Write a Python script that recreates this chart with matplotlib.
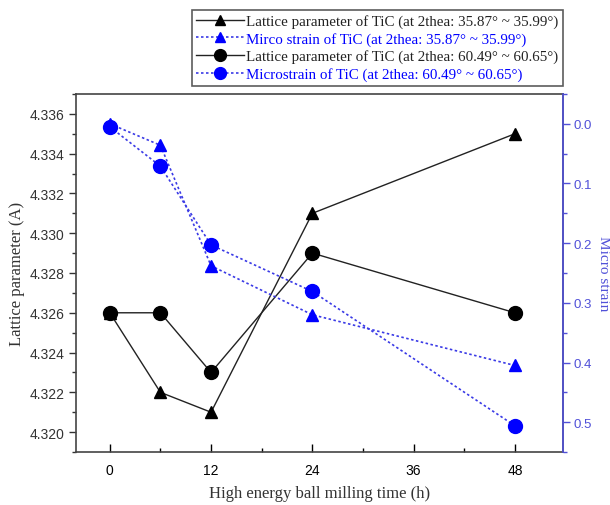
import matplotlib; matplotlib.use('Agg')
import matplotlib.pyplot as plt
from matplotlib.ticker import MultipleLocator

# --- data ---
time_h = [0, 6, 12, 24, 48]
lat_3587 = [4.326, 4.322, 4.321, 4.331, 4.335]
strain_3587 = [0.0, 0.036, 0.238, 0.320, 0.405]
lat_6049 = [4.326, 4.326, 4.323, 4.329, 4.326]
strain_6049 = [0.005, 0.071, 0.203, 0.281, 0.506]

labels = ['Lattice parameter of TiC (at 2thea: 35.87° ~ 35.99°)',
          'Mirco strain of TiC (at 2thea: 35.87° ~ 35.99°)',
          'Lattice parameter of TiC (at 2thea: 60.49° ~ 60.65°)',
          'Microstrain of TiC (at 2thea: 60.49° ~ 60.65°)']

serif = 'Liberation Serif'; sans = 'Liberation Sans'
axblue = '#5050d8'

fig = plt.figure(figsize=(6.10, 5.06), dpi=100)
ax = fig.add_axes([0.1246, 0.1047, 0.923 - 0.1246, 0.8123 - 0.1047])
ax2 = ax.twinx()

l1, = ax.plot(time_h, lat_3587, '-', color='#222222', lw=1.0, marker='^', ms=9,
              mfc='black', mec='black')
l3, = ax.plot(time_h, lat_6049, '-', color='#222222', lw=1.0, marker='o', ms=10,
              mfc='black', mec='black')
l2, = ax2.plot(time_h, strain_3587, color='#3a3ae6', lw=1.2, ls=(0, (1.5, 1.5)), marker='^', ms=9,
               mfc='blue', mec='blue')
l4, = ax2.plot(time_h, strain_6049, color='#3a3ae6', lw=1.2, ls=(0, (1.5, 1.5)), marker='o', ms=10,
               mfc='blue', mec='blue')

ax.set_xlim(-4, 53.7)
ax.set_ylim(4.319, 4.337)
ax2.set_ylim(0.55, -0.05)

ax.xaxis.set_major_locator(MultipleLocator(12)); ax.xaxis.set_minor_locator(MultipleLocator(6))
ax.yaxis.set_major_locator(MultipleLocator(0.002)); ax.yaxis.set_minor_locator(MultipleLocator(0.001))
ax2.yaxis.set_major_locator(MultipleLocator(0.1)); ax2.yaxis.set_minor_locator(MultipleLocator(0.05))
ax.yaxis.set_major_formatter(plt.FormatStrFormatter('%.3f'))
ax2.yaxis.set_major_formatter(plt.FormatStrFormatter('%.1f'))

ax.tick_params(axis='x', which='major', direction='in', length=6, width=1, labelsize=10, pad=8)
ax.tick_params(axis='x', which='minor', direction='in', length=3, width=1)
ax.tick_params(axis='x', top=False, which='both')
ax.tick_params(axis='y', which='major', direction='out', length=5, width=1, labelsize=10, colors='#333333')
ax.tick_params(axis='y', which='minor', direction='out', length=3, width=1, colors='#333333')
ax2.tick_params(axis='y', which='major', direction='out', length=5, width=1, labelsize=9.5,
                colors=axblue, pad=2.5)
ax2.tick_params(axis='y', which='minor', direction='out', length=3, width=1, colors=axblue)
for t in ax.get_xticklabels() + ax.get_yticklabels() + ax2.get_yticklabels():
    t.set_fontfamily(sans)
for t in ax2.get_yticklabels():
    t.set_color(axblue)

for s in ax.spines.values():
    s.set_color('#444444'); s.set_linewidth(1.2)
ax2.spines['right'].set_color(axblue); ax2.spines['right'].set_linewidth(1.2)
ax2.spines['left'].set_visible(False)
ax2.spines['top'].set_visible(False); ax2.spines['bottom'].set_visible(False)

ax.set_xlabel('High energy ball milling time (h)', fontfamily=serif, fontsize=12, color='#333333', labelpad=6)
ax.set_ylabel('Lattice parameter (A)', fontfamily=serif, fontsize=12, color='#333333', labelpad=3)
ax2.set_ylabel('Micro strain', fontfamily=serif, fontsize=11, color=axblue, rotation=270, labelpad=13)

leg = fig.legend([l1, l2, l3, l4], labels, loc='upper right', bbox_to_anchor=(0.923, 0.979),
                 prop={'family': serif, 'size': 10.8}, frameon=True, fancybox=False,
                 edgecolor='#333333', handlelength=3.2, handletextpad=0.15, labelspacing=0.25,
                 borderpad=0.3, borderaxespad=0, markerscale=0.85)
leg.get_frame().set_linewidth(1.2)
for t, c in zip(leg.get_texts(), ['#222222', 'blue', '#222222', 'blue']):
    t.set_color(c)

fig.savefig('out.png', dpi=100)
